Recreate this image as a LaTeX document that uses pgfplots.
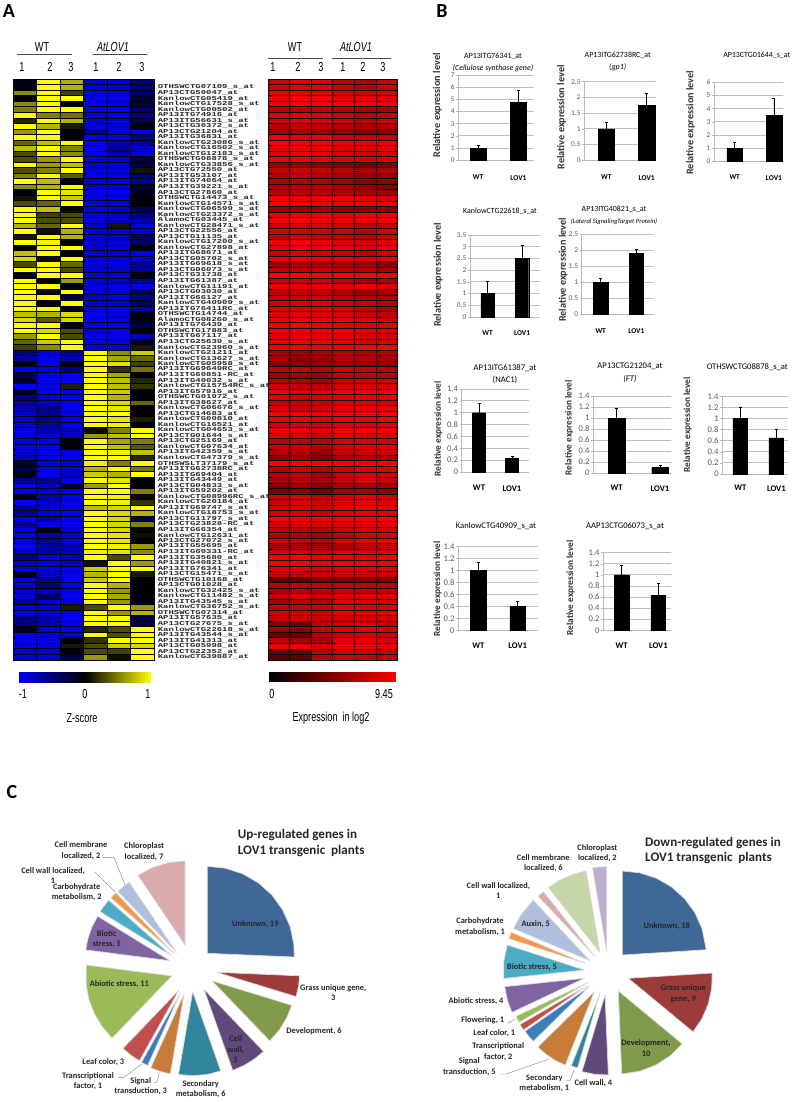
\documentclass[border=0pt]{standalone}
\usepackage{fontspec}
\setmainfont{Carlito}
\setmonofont{Liberation Mono}
\newfontfamily\arialn{Liberation Sans}
\usepackage{pgfplots}
\usepackage{pgfplotstable}
\pgfplotsset{compat=1.18}

% panel A: z-scores, one row per probe set (r c0..c5); row -1 only extends row 0 to the top edge
\pgfplotstableread{
r c0 c1 c2 c3 c4 c5
-1 -.1 1 .7 -.9 -.9 -.5
0 -.1 1 .7 -.9 -.9 -.5
1 .55 1 .25 -.95 -.9 -.4
2 -.05 1 1 -.95 -.95 -.2
3 .55 1 0 -.95 -.9 -.25
4 .5 1 1 -.95 -1 -.4
5 1 .5 .45 -.95 -.95 -.55
6 .15 1 .7 -.85 -.95 -.35
7 1 .7 .1 -.9 -.9 -.05
8 .6 1 0 -.55 -.9 -1
9 1 1 0 -1 -.95 -.6
10 .4 .75 1 -1 -.7 -.6
11 .75 1 .5 -1 -.55 -.85
12 .3 1 .55 -1 -.7 -.9
13 .3 .6 1 -.95 -.9 -.3
14 1 .6 .75 -.9 -.9 -.25
15 .3 .5 1 -.9 -.9 .08
16 .5 1 .35 -.9 -.9 -.5
17 1 .75 -.1 -.85 -.9 -.6
18 .55 .7 1 -.9 -.9 -.2
19 -.05 1 .9 -.95 -.95 -.15
20 .08 1 .8 -1 -.95 -.1
21 .3 .4 1 -1 -.9 -.03
22 1 .75 .03 -.95 -.85 -.35
23 1 .25 .3 -.9 -.75 -.55
24 1 .3 .3 -.85 -.8 -.7
25 .7 .4 1 -.85 .08 -.95
26 1 .05 .7 -.95 -.85 -.9
27 .1 1 .7 -.9 -.8 -.35
28 1 .95 0 -.85 -.9 -.4
29 0 1 1 -.85 -.9 0
30 .75 1 0 -.9 -.85 -1
31 .85 .05 1 -.9 -.9 -.9
32 .3 1 .4 -.9 -.9 -.6
33 1 1 .3 -.9 -.85 -.6
34 0 1 1 -.9 -.9 -.05
35 1 .02 .6 -.9 -.85 -.6
36 1 1 -.1 -.9 -.9 -.9
37 1 .03 1 -.95 -.9 -.35
38 1 1 -.2 -.9 -.95 -.6
39 1 .02 1 -.85 -.9 -.4
40 1 1 -.1 -.9 -.95 -.7
41 .75 .7 .85 -1 -.9 -.05
42 .85 .35 .85 -1 -.95 -.1
43 1 1 -.15 -1 -.95 -.3
44 1 .85 .3 -.9 -.95 0
45 .6 1 .3 -.9 -.95 -.8
46 .4 .8 1 -.95 -.95 -.1
47 .25 .55 1 -.95 -.95 .1
48 -.55 -.95 -.6 1 .55 .8
49 -.6 -1 -.7 1 .65 .4
50 -.05 -1 -.05 1 .9 .25
51 -1 -.95 -.5 1 .2 .45
52 -.3 -.95 -1 1 .65 -.03
53 -.2 -1 -1 1 .75 .15
54 -1 -.95 .12 1 .75 .2
55 -.1 -1 -1 1 .8 -.05
56 -.5 -.85 -1 1 .7 -.05
57 -.6 -.8 -1 1 .85 .4
58 -.75 -.55 -1 1 .9 -.03
59 -.85 -.55 -1 1 1 -.03
60 -.85 -.6 -1 1 .9 .12
61 -.9 -.7 -1 1 .95 -.1
62 -1 -.7 -.8 .05 .5 1
63 -.9 -1 -.8 .6 .75 1
64 -.95 -1 -.05 1 .65 .5
65 -1 -1 -.05 1 .75 .35
66 -.85 -.95 -.9 1 .95 .75
67 -.8 -.95 -.95 1 1 .15
68 -.2 -.95 -.9 .95 .5 1
69 -.3 -1 -.85 .7 1 .45
70 -.1 -1 -.8 .8 .7 1
71 -.6 -.6 -.9 1 .9 -.05
72 -1 -.8 -.2 .6 1 -.05
73 -1 -.9 -.95 1 1 .5
74 -.1 -.75 -1 1 .95 .03
75 -1 -.8 -1 1 .95 .2
76 -.6 -.95 -.95 .75 .85 1
77 -.6 -.9 -1 1 .85 .7
78 -.95 -.6 -1 1 .85 -.3
79 -.6 -1 -1 1 .85 .5
80 -1 0 -.9 1 .85 .02
81 -1 -.7 -.9 1 .9 .05
82 -.95 -.6 -.95 1 .9 .02
83 -1 -.65 -.7 1 .95 .6
84 -.8 -.7 -.8 .95 .9 .55
85 -.6 -.95 -.8 1 .3 1
86 -.8 -.95 -.85 .05 1 .6
87 -.9 -.95 -1 .8 1 1
88 -.1 -.85 -1 .7 1 .1
89 -.95 -.6 -1 .8 1 0
90 -.9 -.5 -1 1 .7 0
91 -.8 -.7 -1 1 .6 -.03
92 -.85 -.35 -1 1 .65 -.03
93 -.6 -.9 -.9 1 .6 -.03
94 -.9 -.9 .1 .3 1 .6
95 -.95 -.9 -.9 1 .6 .7
96 -.5 -.7 -1 1 1 -.3
97 -.45 -.7 -1 1 1 -.3
98 -.1 -.9 -1 .15 .3 1
99 -1 -.9 -.9 1 .3 1
100 -.95 -.95 -.02 .2 1 1
101 -.95 -.95 .1 .3 .8 .85
102 -.9 -.9 -.05 .3 .25 1
103 -.9 -.9 -.3 .6 .05 1
}\zscore

% panel A: expression in log2, same rows
\pgfplotstableread{
r c0 c1 c2 c3 c4 c5
-1 7.5 8.3 8.3 7.2 6.8 7.6
0 7.5 8.3 8.3 7.2 6.8 7.6
1 8.4 8.5 8.5 7.8 7.6 8
2 8.8 9.2 9.2 8.6 8.8 8.6
3 9 9.4 9.4 9.2 9.4 9.2
4 7 6.8 7 6.8 6.2 6.2
5 8.2 8.4 8.2 7.6 7 7.4
6 7.6 8 8 7.4 7 7.6
7 6.8 7 6.8 6.5 6 6.4
8 6.2 6.4 6.2 5.6 5.2 5.4
9 8.8 8.8 8.8 7.6 7.6 7.6
10 9.2 9.2 9.2 8.8 8.6 8.8
11 8.4 8.6 8.6 8 8 8.2
12 8.2 8.6 8.4 7.8 7.6 8
13 8.8 9 8.8 8.2 8 8.2
14 5.4 5.6 5.2 4.8 4.4 4.4
15 7 7.2 7 6.8 6.2 6.4
16 6.8 7 6.8 6.2 5.6 5.6
17 6.4 6.6 6.6 6 5.4 5.2
18 6.4 6.6 6.8 6.2 5.6 5
19 6.6 6.8 6.8 6.4 6 5.8
20 9 8.8 8.8 8.8 8.4 8
21 9 9.2 9 8.8 9 8.8
22 5.6 5.6 5.8 5 5.2 5.4
23 8.6 9 9 8.8 9 9
24 9 9.2 9 8.8 9 9
25 7.6 8 8 7.6 7 7.6
26 7.8 7.8 7.8 7.4 6.8 8
27 7 8 7.4 7.2 7 7.6
28 8.8 9 8.8 8.4 8 8.4
29 8.6 9 8.8 8.6 8.2 8.6
30 7.4 8 7.8 7.4 7 7.8
31 8.6 9 8.6 8.4 8 8.4
32 5.8 6 6 6 5.8 5
33 7 7 7.2 7 6.6 6
34 9.4 9.4 9.4 9.2 9.4 9.2
35 7 7.4 7.4 7 6 6.2
36 8.6 8.4 8.4 8.2 9 8.2
37 6.6 6.8 6.8 6.2 5.4 5.8
38 7.2 7.6 7.6 7 6.8 6.6
39 7.8 8 8.2 7.6 7.2 6.8
40 8 8 8.2 7.8 7.2 6.4
41 8.2 8.4 8.2 8 7.4 7
42 9 9 9 8.8 8.6 8
43 8.8 9 9 8.6 8.4 8.2
44 8.6 8.8 8.8 8.6 8.4 8
45 8.2 8.4 8.4 8.2 8 7.8
46 8.6 9 8.8 8.6 8 8
47 9 9 9 9 9.2 9.2
48 6 5.6 6 6.6 6.4 6.4
49 6 5.2 5.6 6.6 6.4 6.2
50 5.2 4.8 5.4 6.2 6 5.6
51 7.4 7.4 7 7.6 7.6 7.4
52 6 5.8 5.8 7 7 6.8
53 6.8 6.6 6 7.4 7.6 7.6
54 7.8 7 7 8 8 8
55 8.8 8.2 8.4 9 9 9
56 8.4 7.6 8 8.6 8.6 8.4
57 7 6.8 7 8 8 7.6
58 8 7.4 7.6 8.2 8.4 8.4
59 9.2 9 9 9.2 9.2 9.2
60 8.8 8.6 8.4 8.8 8.8 8.8
61 7.8 7.6 7.6 8 8 8
62 9 8.8 8.2 9 9.2 9
63 8.4 8.2 7.8 8.4 8.4 8.2
64 7 7 7 8 8.2 7.8
65 7.2 7.2 6.6 8 8.2 8.2
66 6.4 6.4 5.2 7 7.4 7.4
67 5 5.6 4.6 6.2 6.4 6.4
68 9.2 9.2 9.2 9.2 9.2 9.2
69 6.8 7.6 6.4 7.6 8.2 8
70 6.4 7 5.8 7.4 8 7.6
71 6 6.6 6 7 8 7.4
72 4.8 5.6 4.6 6.2 6.2 6
73 4.6 5.2 4.2 6 6.2 5.2
74 7.6 8 7 8 8.6 8
75 7.4 8 7.6 8.2 8.8 8.2
76 8 8.4 7.8 8.6 9 8.6
77 7.6 8 7.2 8.2 8.8 8.4
78 9.4 9.2 9.2 9.4 9.4 9.4
79 7.8 8 7.8 8.2 8.4 8.4
80 7.2 7.2 7 7.6 8 8
81 6.6 6.2 6.2 7 7.8 7.8
82 8 7.6 7 8.2 8.6 8.8
83 5.8 6 5.8 6.2 7 7.2
84 8 8 7.8 8.2 8.2 8.2
85 9 9.2 8.8 8.8 8.8 8.8
86 9.2 9.2 8.6 9 9 9
87 8.4 8.4 7.8 8.2 8.2 8.2
88 7.4 7 7.6 7.6 7.6 7.6
89 3.8 3.6 5 4.8 5 5
90 7 7.2 7.2 7.4 7.2 7.2
91 6.2 6.6 6.6 7.2 7 7
92 7 8 7.2 8 8.2 8
93 6.2 7 6.8 8.2 8 8
94 7 7.2 7.2 8.6 8.4 8.2
95 7.6 7.6 7.6 8.6 8.4 8.4
96 7.2 7.6 7.4 7.8 7.8 7.8
97 4.6 3.8 7 7.6 8 7.4
98 6 5.2 7.4 8.2 8.2 8
99 3.8 3.8 6.6 7.6 7.8 7.2
100 7 6 6 8.2 8.6 8
101 8.8 9 8 9 9 8.8
102 4 4 6.6 7.8 7.6 7.4
103 3.6 3.4 6.8 7.6 7.4 7.2
}\exprlog

\definecolor{pUnk}{RGB}{63,103,151}
\definecolor{pGrass}{RGB}{155,60,58}
\definecolor{pDev}{RGB}{127,154,72}
\definecolor{pCW}{RGB}{96,74,123}
\definecolor{pSec}{RGB}{49,133,156}
\definecolor{pSig}{RGB}{200,124,58}
\definecolor{pTF}{RGB}{62,125,187}
\definecolor{pLeaf}{RGB}{192,80,77}
\definecolor{pAbi}{RGB}{155,187,89}
\definecolor{pBio}{RGB}{128,100,162}
\definecolor{pCarb}{RGB}{75,172,198}
\definecolor{pLoc}{RGB}{247,150,70}
\definecolor{pMem}{RGB}{175,191,221}
\definecolor{pChl}{RGB}{217,171,173}
\definecolor{pMem2}{RGB}{197,214,168}
\definecolor{pChl2}{RGB}{188,176,206}

\pgfplotsset{
  heat/.style={scale only axis, clip=true, y dir=reverse, xmin=-.5, xmax=5.5, ymin=-1, ymax=103.2,
    axis line style={draw=none}, major tick length=0pt},
  cell/.style={scatter, only marks, mark=square*, mark size=2.765pt,
    scatter/use mapped color={draw=black, fill=mapped color}},
  barax/.style={scale only axis, ybar, ymin=0, bar width=#1pt, axis lines=left,
    axis line style={-, draw=gray!55, line width=.7pt}, tick style={draw=gray!55, line width=.5pt},
    ymajorgrids, grid style={gray!50, line width=.9pt}, major x tick style={draw=none},
    xtick={0,1}, xticklabels={\bfseries WT,\bfseries LOV1}, extra x ticks={.5}, extra x tick labels={},
    extra x tick style={tick style={draw=gray!55}, major tick length=2pt, grid=none},
    major tick length=2pt, tick align=outside, every axis title shift=0pt,
    /pgf/number format/assume math mode=true, ylabel={\bfseries Relative expression level},
    yticklabel style={text=black!65, inner sep=1.5pt}, clip=false},
  yl/.style 2 args={ylabel style={at={(axis description cs:0,0)}, anchor=center, yshift=#1pt, xshift=#2pt, text=black!80}},
  tt/.style 2 args={title style={at={(axis description cs:0,0)}, anchor=center, align=center, xshift=#1pt, yshift=#2pt-1pt}},
  xl/.style={xticklabel style={yshift=-#1pt, inner sep=1pt}},
  small1/.style={tick label style={font=\fontsize{7.4}{9}\selectfont},
    label style={font=\fontsize{10.2}{11}\selectfont}, title style={font=\fontsize{7.9}{12.5}\selectfont}},
  small2/.style={tick label style={font=\fontsize{8.6}{10}\selectfont},
    label style={font=\fontsize{9.3}{10}\selectfont}, title style={font=\fontsize{8.6}{12.5}\selectfont}},
  pie/.style={at={(0pt,-1102pt)}, anchor=south west, hide axis, x=1pt, y=1pt, xmin=0, xmax=794, ymin=0, ymax=300, clip=false, no markers},
  wdg/.style n args={3}{data cs=polar, fill=#1, draw=gray!28, line width=.7pt, line join=bevel, shift={(#2pt,#3pt)}},
}

\newcommand{\atext}[1]{{\arialn\fontsize{13}{14}\selectfont #1}}
\newcommand{\pl}{\bfseries\fontsize{8.4}{10.4}\selectfont}
\newcommand{\pt}{\bfseries\fontsize{13.1}{14}\selectfont}

\begin{document}
\begin{tikzpicture}[x=1pt,y=-1pt]
\useasboundingbox (0,0) rectangle (794,1102);

% ---- panel letters
\foreach \l/\x/\y in {A/9/11,B/442/11,C/12/792}
  \node[font=\bfseries\fontsize{20}{20}\selectfont] at (\x,\y) {\l};

% ---- panel A, z-scores
\begin{axis}[heat, xtick=\empty, at={(12.7pt,-658pt)}, anchor=south west, width=141.3pt, height=576.3pt,
  colormap={bly}{rgb255(0cm)=(0,0,245); rgb255(1cm)=(0,0,0); rgb255(2cm)=(255,255,0)},
  point meta min=-1, point meta max=1,
  ytick={0,...,103}, yticklabel pos=right,
  yticklabel style={font=\ttfamily\bfseries\fontsize{6}{6}\selectfont, text=black!85, anchor=west, xscale=1.49, inner sep=0pt, xshift=2.4pt},
  yticklabels={OTHSWCTG07109\_s\_at,AP13CTG50047\_at,KanlowCTG05419\_at,KanlowCTG17528\_s\_at,KanlowCTG00502\_at,AP13ITG74916\_at,AP13ITG56631\_s\_at,AP13CTG30372\_s\_at,AP13CTG21204\_at,AP13ITG36831\_at,KanlowCTG23086\_s\_at,KanlowCTG16502\_s\_at,KanlowCTG12183\_s\_at,OTHSWCTG08878\_s\_at,KanlowCTG33856\_s\_at,AP13CTG72550\_at,AP13ITG53107\_at,AP13ITG74064\_at,AP13ITG39221\_s\_at,AP13CTG27860\_at,OTHSWCTG14473\_s\_at,KanlowCTG14571\_s\_at,KanlowCTG06599\_s\_at,KanlowCTG23372\_s\_at,AlamoCTG03445\_at,KanlowCTG28471\_s\_at,AP13CTG22556\_at,AP13CTG11135\_at,KanlowCTG17200\_s\_at,KanlowCTG27898\_at,AP13ITG68671\_at,AP13CTG05702\_s\_at,AP13ITG69618\_s\_at,AP13CTG06073\_s\_at,AP13CTG31738\_at,AP13ITG61387\_at,KanlowCTG11191\_at,AP13CTG03030\_at,AP13ITG66127\_at,KanlowCTG40909\_s\_at,AP13ITG76411RC\_at,OTHSWCTG14744\_at,AlamoCTG08260\_s\_at,AP13ITG76439\_at,OTHSWCTG17883\_at,AP13ITG67117\_at,AP13CTG25639\_s\_at,KanlowCTG23960\_s\_at,KanlowCTG21211\_at,KanlowCTG13627\_s\_at,KanlowCTG05958\_s\_at,AP13ITG69649RC\_at,AP13ITG60851-RC\_at,AP13ITG40032\_s\_at,KanlowCTG15754RC\_s\_at,AP13ITG57916\_at,OTHSWCTG01972\_s\_at,AP13ITG38627\_at,KanlowCTG06676\_s\_at,AP13CTG14683\_at,KanlowCTG00810\_at,KanlowCTG16521\_at,KanlowCTG04653\_s\_at,AP13CTG01644\_s\_at,AP13CTG25169\_at,KanlowCTG07634\_at,AP13ITG42359\_s\_at,KanlowCTG47379\_s\_at,OTHSWSLT37179\_s\_at,AP13ITG62738RC\_at,AP13ITG69404\_at,AP13ITG43449\_at,AP13CTG04833\_s\_at,AP13ITG59202\_at,KanlowCTG08996RC\_s\_at,KanlowCTG20184\_at,AP13ITG69747\_s\_at,KanlowCTG18753\_s\_at,AP13CTG11797\_s\_at,AP13CTG23828-RC\_at,AP13ITG66354\_at,KanlowCTG12631\_at,AP13CTG27072\_s\_at,AP13ITG55695\_at,AP13ITG60331-RC\_at,AP13ITG35680\_at,AP13ITG40821\_s\_at,AP13ITG76341\_at,AP13CTG15471\_s\_at,OTHSWCTG10168\_at,AP13CTG01028\_at,KanlowCTG32425\_s\_at,KanlowCTG11482\_s\_at,AP13ITG43545\_s\_at,KanlowCTG36752\_s\_at,OTHSWCTG07314\_at,AP13ITG57635\_at,AP13CTG27675\_s\_at,KanlowCTG22618\_s\_at,AP13ITG43544\_s\_at,AP13ITG41313\_at,AP13CTG05998\_at,AP13CTG22352\_at,KanlowCTG39887\_at}]
\pgfplotsinvokeforeach{0,...,5}{
  \addplot[cell, mark options={xscale=4.26, line width=.3pt}, point meta=\thisrow{c#1}] table[x expr=#1, y=r] {\zscore};
}
\end{axis}

% ---- panel A, log2 expression
\begin{axis}[heat, at={(267.7pt,-658pt)}, anchor=south west, width=129.6pt, height=576.3pt, ytick=\empty,
  xtick={.5,1.5,2.5,3.5,4.5}, xticklabels={}, xmajorgrids, grid style={black!75, line width=.7pt}, axis on top,
  colormap={blr}{rgb255(0cm)=(0,0,0); rgb255(1cm)=(255,0,0)},
  point meta min=0, point meta max=9.45]
\pgfplotsinvokeforeach{0,...,5}{
  \addplot[cell, mark options={xscale=3.91, line width=.2pt}, point meta=\thisrow{c#1}] table[x expr=#1, y=r] {\exprlog};
}
\end{axis}

% ---- colour keys
\begin{axis}[at={(19pt,-682pt)}, anchor=south west, scale only axis, width=131.7pt, height=10pt, hide axis,
  xmin=-1, xmax=1, ymin=0, ymax=1, view={0}{90},
  colormap={bly}{rgb255(0cm)=(0,0,245); rgb255(1cm)=(0,0,0); rgb255(2cm)=(255,255,0)}, point meta min=-1, point meta max=1]
\addplot[surf, shader=interp, mesh/rows=2, point meta=x] coordinates {(-1,0)(0,0)(1,0)(-1,1)(0,1)(1,1)};
\end{axis}
\begin{axis}[at={(269pt,-681pt)}, anchor=south west, scale only axis, width=126.7pt, height=9.5pt, hide axis,
  xmin=0, xmax=9.45, ymin=0, ymax=1, view={0}{90},
  colormap={blr}{rgb255(0cm)=(0,0,0); rgb255(1cm)=(255,0,0)}, point meta min=0, point meta max=9.45]
\addplot[surf, shader=interp, mesh/rows=2, point meta=x] coordinates {(0,0)(9.45,0)(0,1)(9.45,1)};
\end{axis}

% ---- panel A, headers and key text
\foreach \t/\x/\y in {WT/42/47,WT/295/47,\textit{AtLOV1}/113/47,\textit{AtLOV1}/356/47,
   1/22/67,2/50/67,3/71/67,1/96/67,2/119/67,3/142/67,1/273/67,2/298/67,3/321/67,1/343/67,2/363/67,3/383/67,
   -1/23/694,0/85/694,1/148/694,0/272/694,9.45/384/694,Z-score/82/718,Expression\ \ in log2/331/718}
  \node[xscale=.7] at (\x,\y) {\atext{\t}};
\draw[black!70, line width=.6pt] (17,54)--(72,54) (93,54)--(147,54) (268,58)--(323,58) (332,58)--(391,58);

% ---- panel B
\begin{axis}[barax=15.7, small1, at={(458.3pt,-160.3pt)}, anchor=south west, width=75.4pt, height=85.3pt,
  xmin=-.489, xmax=1.38, ymax=7, ytick={0,...,7}, xl=11.7, yl={21}{55}, tt={34.7}{99},
  title={AP13ITG76341\_at\\\textit{(Cellulose synthase gene)}}]
\addplot[fill=black, draw=black, error bars/.cd, y dir=plus, y explicit, error bar style={black, line width=.7pt}, error mark options={rotate=90, mark size=1.5pt}]
  coordinates {(0,1) +- (0,.2) (1,4.75) +- (0,1)};
\end{axis}
\begin{axis}[barax=16.5, small1, at={(584.3pt,-160.3pt)}, anchor=south west, width=70.7pt, height=78.6pt,
  xmin=-.545, xmax=1.205, ymax=2.5, ytick={0,.5,...,2.5}, xl=11.7, yl={22.6}{43}, tt={33.4}{99.8},
  title={AP13ITG62738RC\_at\\\textit{(gp1)}}]
\addplot[fill=black, draw=black, error bars/.cd, y dir=plus, y explicit, error bar style={black, line width=.7pt}, error mark options={rotate=90, mark size=1.5pt}]
  coordinates {(0,1) +- (0,.2) (1,1.75) +- (0,.4)};
\end{axis}
\begin{axis}[barax=15.7, small1, at={(714pt,-161.3pt)}, anchor=south west, width=69pt, height=79pt,
  xmin=-.527, xmax=1.23, ymax=6, ytick={0,...,6}, xl=10.7, yl={23.3}{38.6}, tt={42.7}{107.3},
  title={AP13CTG01644\_s\_at}]
\addplot[fill=black, draw=black, error bars/.cd, y dir=plus, y explicit, error bar style={black, line width=.7pt}, error mark options={rotate=90, mark size=1.5pt}]
  coordinates {(0,1) +- (0,.42) (1,3.5) +- (0,1.3)};
\end{axis}
\begin{axis}[barax=13.3, small1, at={(470pt,-317pt)}, anchor=south west, width=70pt, height=82pt,
  xmin=-.51, xmax=1.52, ymax=3.5, ytick={0,.5,...,3.5}, xl=10.7, yl={32}{42}, tt={30}{106.3},
  title={KanlowCTG22618\_s\_at}]
\addplot[fill=black, draw=black, error bars/.cd, y dir=plus, y explicit, error bar style={black, line width=.7pt}, error mark options={rotate=90, mark size=1.5pt}]
  coordinates {(0,1) +- (0,.52) (1,2.5) +- (0,.58)};
\end{axis}
\begin{axis}[barax=14.3, small1, at={(581.7pt,-314.3pt)}, anchor=south west, width=72.6pt, height=80pt,
  xmin=-.534, xmax=1.506, ymax=2.5, ytick={0,.5,...,2.5}, xl=10.7, yl={18.7}{44.3}, tt={32.3}{100},
  title={AP13ITG40821\_s\_at\\\textit{\fontsize{6.6}{12.5}\selectfont(Lateral SignalingTarget Protein)}}]
\addplot[fill=black, draw=black, error bars/.cd, y dir=plus, y explicit, error bar style={black, line width=.7pt}, error mark options={rotate=90, mark size=1.5pt}]
  coordinates {(0,1) +- (0,.14) (1,1.9) +- (0,.13)};
\end{axis}
\begin{axis}[barax=13.3, small2, at={(461.7pt,-472pt)}, anchor=south west, width=67.3pt, height=83pt,
  xmin=-.524, xmax=1.515, ymax=1.4, ytick={0,.2,...,1.4}, xl=10.2, yl={23.4}{43}, tt={43.3}{99},
  title={AP13ITG61387\_at\\(NAC1)}]
\addplot[fill=black, draw=black, error bars/.cd, y dir=plus, y explicit, error bar style={black, line width=.7pt}, error mark options={rotate=90, mark size=1.5pt}]
  coordinates {(0,1) +- (0,.16) (1,.23) +- (0,.04)};
\end{axis}
\begin{axis}[barax=16.6, small2, at={(593.3pt,-473pt)}, anchor=south west, width=77.4pt, height=77pt,
  xmin=-.54, xmax=1.246, ymax=1.4, ytick={0,.2,...,1.4}, xl=9.2, yl={24.3}{45}, tt={36.7}{101},
  title={AP13CTG21204\_at\\\textit{(FT)}}]
\addplot[fill=black, draw=black, error bars/.cd, y dir=plus, y explicit, error bar style={black, line width=.7pt}, error mark options={rotate=90, mark size=1.5pt}]
  coordinates {(0,1) +- (0,.17) (1,.1) +- (0,.05)};
\end{axis}
\begin{axis}[barax=14.7, small2, at={(722.3pt,-474pt)}, anchor=south west, width=65.7pt, height=77.7pt,
  xmin=-.5, xmax=1.325, ymax=1.4, ytick={0,.2,...,1.4}, xl=8.2, yl={34.6}{49}, tt={25}{108},
  title={OTHSWCTG08878\_s\_at}]
\addplot[fill=black, draw=black, error bars/.cd, y dir=plus, y explicit, error bar style={black, line width=.7pt}, error mark options={rotate=90, mark size=1.5pt}]
  coordinates {(0,1) +- (0,.21) (1,.65) +- (0,.15)};
\end{axis}
\begin{axis}[barax=15.7, small2, at={(458.3pt,-630.3pt)}, anchor=south west, width=79.4pt, height=84pt,
  xmin=-.508, xmax=1.508, ymax=1.4, ytick={0,.2,...,1.4}, xl=9.5, yl={20.6}{41.3}, tt={37.7}{105},
  title={KanlowCTG40909\_s\_at}]
\addplot[fill=black, draw=black, error bars/.cd, y dir=plus, y explicit, error bar style={black, line width=.7pt}, error mark options={rotate=90, mark size=1.5pt}]
  coordinates {(0,1) +- (0,.14) (1,.4) +- (0,.09)};
\end{axis}
\begin{axis}[barax=14.7, small2, at={(603.3pt,-630.3pt)}, anchor=south west, width=67.7pt, height=77.6pt,
  xmin=-.503, xmax=1.346, ymax=1.4, ytick={0,.2,...,1.4}, xl=9.5, yl={32.6}{42.3}, tt={21.7}{105},
  title={AAP13CTG06073\_s\_at}]
\addplot[fill=black, draw=black, error bars/.cd, y dir=plus, y explicit, error bar style={black, line width=.7pt}, error mark options={rotate=90, mark size=1.5pt}]
  coordinates {(0,1) +- (0,.17) (1,.63) +- (0,.22)};
\end{axis}

% ---- panel C, up-regulated: counts 19,3,6,5,6,3,1,3,11,5,2,1,2,7 of 74, clockwise from the top
\begin{axis}[pie]
\addplot[wdg={pUnk}{207.3}{148.7}] coordinates {(90,0)(90,87)(78,87)(66,87)(54,87)(42,87)(30,87)(18,87)(6,87)(-2.43,87)(-2.43,0)(90,0)};
\addplot[wdg={pGrass}{216.7}{129.7}] coordinates {(-2.43,0)(-2.43,83)(-9.7,83)(-17.03,83)(-17.03,0)(-2.43,0)};
\addplot[wdg={pDev}{212.3}{121}] coordinates {(-17.03,0)(-17.03,83)(-26,83)(-36,83)(-46.2,83)(-46.2,0)(-17.03,0)};
\addplot[wdg={pCW}{204}{112.7}] coordinates {(-46.2,0)(-46.2,86)(-54,86)(-62,86)(-70.5,86)(-70.5,0)(-46.2,0)};
\addplot[wdg={pSec}{192.7}{110.3}] coordinates {(-70.5,0)(-70.5,84)(-80,84)(-90,84)(-99.7,84)(-99.7,0)(-70.5,0)};
\addplot[wdg={pSig}{184}{108}] coordinates {(-99.7,0)(-99.7,81)(-107,81)(-114.3,81)(-114.3,0)(-99.7,0)};
\addplot[wdg={pTF}{181}{110.3}] coordinates {(-114.3,0)(-114.3,81)(-119.2,81)(-119.2,0)(-114.3,0)};
\addplot[wdg={pLeaf}{179}{112}] coordinates {(-119.2,0)(-119.2,81)(-126.5,81)(-133.8,81)(-133.8,0)(-119.2,0)};
\addplot[wdg={pAbi}{171.7}{126}] coordinates {(-133.8,0)(-133.8,86)(-144,86)(-154,86)(-164,86)(-174,86)(-187.3,86)(-187.3,0)(-133.8,0)};
\addplot[wdg={pBio}{170}{141.3}] coordinates {(-187.3,0)(-187.3,85)(-195,85)(-203,85)(-211.6,85)(-211.6,0)(-187.3,0)};
\addplot[wdg={pCarb}{171.7}{146.3}] coordinates {(-211.6,0)(-211.6,84)(-216.5,84)(-221.4,84)(-221.4,0)(-211.6,0)};
\addplot[wdg={pLoc}{174}{148.7}] coordinates {(-221.4,0)(-221.4,84)(-226.2,84)(-226.2,0)(-221.4,0)};
\addplot[wdg={pMem}{176.7}{149.3}] coordinates {(-226.2,0)(-226.2,85)(-231,85)(-236,85)(-236,0)(-226.2,0)};
\addplot[wdg={pChl}{185}{157}] coordinates {(-236,0)(-236,84)(-247,84)(-258,84)(-270,84)(-270,0)(-236,0)};
\end{axis}

% ---- panel C, down-regulated: counts 18,9,10,4,1,5,2,1,1,4,5,1,5,1,6,2 of 75
\begin{axis}[pie]
\addplot[wdg={pUnk}{622.3}{147}] coordinates {(90,0)(90,84)(78,84)(66,84)(54,84)(42,84)(30,84)(18,84)(3.6,84)(3.6,0)(90,0)};
\addplot[wdg={pGrass}{628.3}{123.7}] coordinates {(3.6,0)(3.6,84)(-7,84)(-18,84)(-29,84)(-39.6,84)(-39.6,0)(3.6,0)};
\addplot[wdg={pDev}{618.3}{111}] coordinates {(-39.6,0)(-39.6,83)(-51,83)(-63,83)(-75,83)(-87.6,83)(-87.6,0)(-39.6,0)};
\addplot[wdg={pCW}{605}{107}] coordinates {(-87.6,0)(-87.6,80)(-97,80)(-106.8,80)(-106.8,0)(-87.6,0)};
\addplot[wdg={pSec}{600}{108.7}] coordinates {(-106.8,0)(-106.8,78)(-111.6,78)(-111.6,0)(-106.8,0)};
\addplot[wdg={pSig}{594.3}{110.3}] coordinates {(-111.6,0)(-111.6,79)(-120,79)(-128,79)(-135.6,79)(-135.6,0)(-111.6,0)};
\addplot[wdg={pTF}{589}{115.3}] coordinates {(-135.6,0)(-135.6,78)(-140,78)(-145.2,78)(-145.2,0)(-135.6,0)};
\addplot[wdg={pLeaf}{588.3}{117}] coordinates {(-145.2,0)(-145.2,79)(-150,79)(-150,0)(-145.2,0)};
\addplot[wdg={pAbi}{588.3}{119.7}] coordinates {(-150,0)(-150,80)(-154.8,80)(-154.8,0)(-150,0)};
\addplot[wdg={pBio}{584.3}{123.7}] coordinates {(-154.8,0)(-154.8,80)(-164,80)(-174,80)(-174,0)(-154.8,0)};
\addplot[wdg={pCarb}{584.3}{132}] coordinates {(-174,0)(-174,81)(-186,81)(-198,81)(-198,0)(-174,0)};
\addplot[wdg={pLoc}{585}{138.7}] coordinates {(-198,0)(-198,80)(-202.8,80)(-202.8,0)(-198,0)};
\addplot[wdg={pMem}{590}{141.3}] coordinates {(-202.8,0)(-202.8,83)(-214,83)(-226.8,83)(-226.8,0)(-202.8,0)};
\addplot[wdg={pChl}{595}{145.3}] coordinates {(-226.8,0)(-226.8,83)(-231.6,83)(-231.6,0)(-226.8,0)};
\addplot[wdg={pMem2}{600}{149.3}] coordinates {(-231.6,0)(-231.6,83)(-240,83)(-250,83)(-260.4,83)(-260.4,0)(-231.6,0)};
\addplot[wdg={pChl2}{606.7}{150.3}] coordinates {(-260.4,0)(-260.4,85)(-265,85)(-270,85)(-270,0)(-260.4,0)};
\end{axis}

% ---- panel C, text
\foreach \x/\y/\t in {237.7/835/Up-regulated genes in,237.7/851/LOV1 transgenic\ \ plants,645/842.7/Down-regulated genes in,645/858.3/LOV1 transgenic\ \ plants}
  \node[anchor=west, inner sep=0pt, font=\pt, text=black!85] at (\x,\y) {\t};
\foreach \x/\y/\t in {
  81/850.7/Cell membrane\\localized{,} 2, 144/851.7/Chloroplast\\localized{,} 7, 53/875.5/Cell wall localized{,}\\1,
  76.7/892.3/Carbohydrate\\metabolism{,} 2, 106.7/939/Biotic\\stress{,} 5, 255.3/924.3/Unknown{,} 19,
  333.3/992.3/Grass unique gene{,}\\3, 314/1031.7/Development{,} 6, 235.7/1049.3/Cell\\wall{,}\\5,
  200.7/1089/Secondary\\metabolism{,} 6, 140.7/1086/Signal\\transduction{,} 3, 88/1081/Transcriptional\\factor{,} 1,
  103.3/1062/Leaf color{,} 3, 119.3/984.3/Abiotic stress{,} 11,
  597.3/853.3/Chloroplast\\localized{,} 2, 543.3/863/Cell membrane\\localized{,} 6, 498.3/890.3/Cell wall localized{,}\\1,
  480/926.7/Carbohydrate\\metabolism{,} 1, 535.7/924/Auxin{,} 5, 532/966.7/Biotic stress{,} 5, 666.7/926/Unknown{,} 18,
  683.3/993.7/Grass unique\\gene{,} 9, 646/1048/Development{,}\\10, 476/1000.7/Abiotic stress{,} 4, 482.7/1020/Flowering{,} 1,
  494.3/1033.3/Leaf color{,} 1, 498.3/1051.7/Transcriptional\\factor{,} 2, 469.3/1066.7/Signal\\transduction{,} 5,
  544.3/1083/Secondary\\metabolism{,} 1, 593.3/1083.3/Cell wall{,} 4}
  \node[align=center, inner sep=0pt, font=\pl, text=black!85] at (\x,\y) {\t};
\draw[gray, line width=.4pt] (103,857.3)--(114,857.3)--(125,885) (94.3,871.7)--(115,891.7)
  (118.3,1077.3)--(124,1077.3)--(141.7,1064) (153,1082.7)--(156.7,1082.7)--(159.3,1072.7)
  (507.3,1023.3)--(515,1019.3) (499.3,1074)--(506,1074)--(548.3,1059.3) (565.7,1080.7)--(570,1080.7)--(574,1070);
\end{tikzpicture}
\end{document}
